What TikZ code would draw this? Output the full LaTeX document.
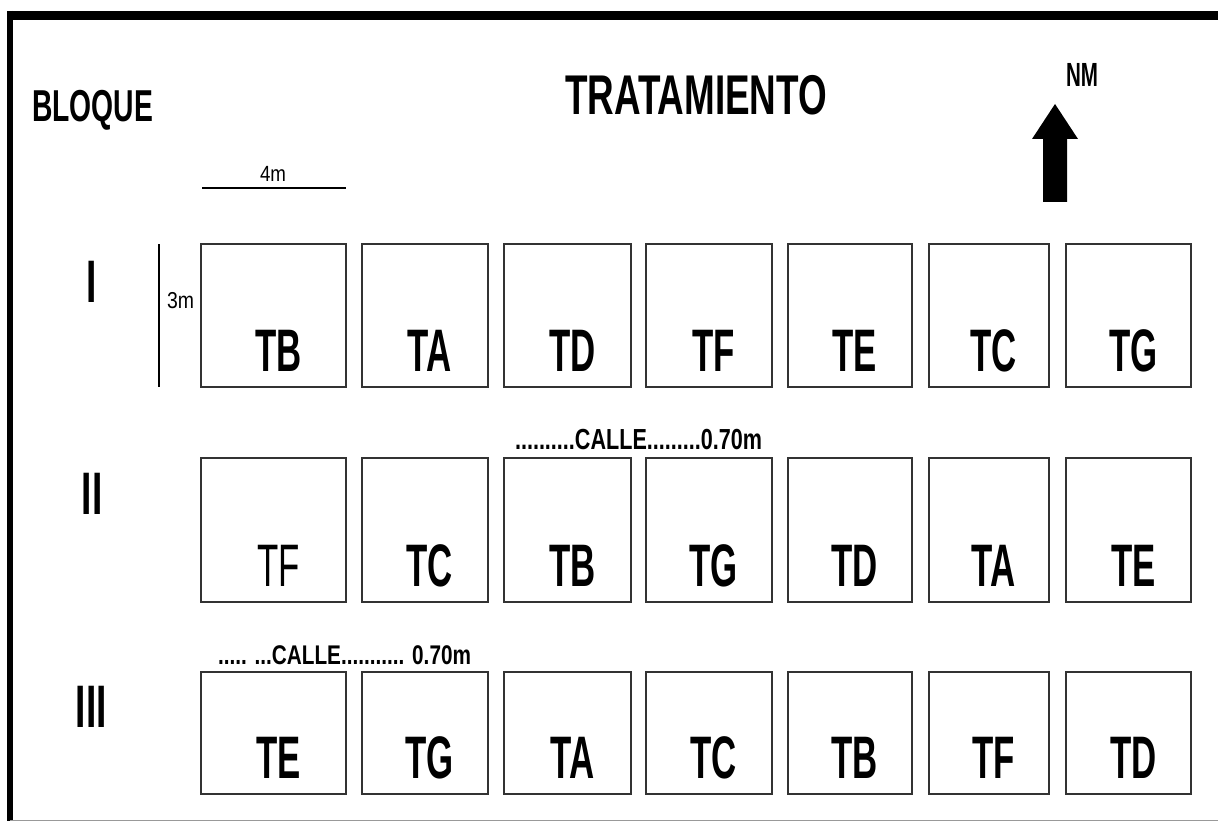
\documentclass[tikz,border=0pt]{standalone}
\usepackage{fontspec}
\setmainfont{Liberation Sans}
\usepackage{graphicx}
\newcommand{\fitw}[3]{\resizebox{#1}{\height}{\fontsize{#2}{#2}\selectfont #3}}
\newcommand{\lbl}[2][\bfseries]{\scalebox{0.58}[1]{\fontsize{60}{60}\selectfont#1 #2}}
\newcommand{\blocknum}[1]{\scalebox{0.62}[1]{\fontsize{60}{60}\selectfont\bfseries #1}}
\begin{document}
\begin{tikzpicture}[x=1pt,y=-1pt,
  txt/.style={inner sep=0pt, outer sep=0pt},
  plot/.style={draw=black!80, line width=1.2pt, inner sep=0pt, outer sep=0pt}]
\useasboundingbox (0,0) rectangle (1218,821);
% frame
\draw[line width=9pt] (7,15.5) -- (1218,15.5);
\draw[line width=6pt] (10,11) -- (10,821);
\draw[black!40, line width=1pt] (10,820) -- (1218,820);
% plots
\foreach \r/\ya/\yb in {1/244/387, 2/458/602, 3/672/794}{
  \foreach \c/\xa/\xb in {1/201/346, 2/362/488, 3/504/631, 4/646/772, 5/788/912, 6/929/1049, 7/1066/1191}{
    \pgfmathsetmacro\w{\xb-\xa}
    \pgfmathsetmacro\h{\yb-\ya}
    \node[plot, minimum width=\w pt, minimum height=\h pt] (b-\r-\c) at ({(\xa+\xb)/2},{(\ya+\yb)/2}) {};
  }
}
% labels
\foreach \r/\c/\t in {1/1/TB, 1/2/TA, 1/3/TD, 1/4/TF, 1/5/TE, 1/6/TC, 1/7/TG,
                      2/2/TC, 2/3/TB, 2/4/TG, 2/5/TD, 2/6/TA, 2/7/TE,
                      3/1/TE, 3/2/TG, 3/3/TA, 3/4/TC, 3/5/TB, 3/6/TF, 3/7/TD}{
  \node[txt, anchor=base] (l-\r-\c) at ([yshift=15.5pt]b-\r-\c.south) {\lbl{\t}};
}
\node[txt, anchor=base] (l-2-1) at ([yshift=15.5pt]b-2-1.south) {\lbl[\mdseries]{TF}};
% headings
\node[txt, anchor=base west] (bloque) at (32,122) {\fitw{121pt}{44.7pt}{\bfseries BLOQUE}};
\node[txt, anchor=base west] (trat) at (565,115) {\fitw{262pt}{56pt}{\bfseries TRATAMIENTO}};
\node[txt, anchor=base west] (nm) at (1066,87) {\fitw{32pt}{33.5pt}{\bfseries NM}};
% north arrow
\fill (1043,202) -- (1043,139) -- (1032,139) -- (1055,104) -- (1078,139) -- (1067,139) -- (1067,202) -- cycle;
% scale
\draw[line width=1.5pt] (202,188) -- (346,188);
\node[txt, anchor=base west] (m4) at (260,182) {\fitw{26pt}{22pt}{4m}};
\draw[line width=1.2pt] (159,244) -- (159,387);
\node[txt, anchor=base west] (m3) at (167,308) {\fitw{27pt}{23pt}{3m}};
% block numerals
\node[txt, anchor=base] (r1) at (92,302) {\blocknum{I}};
\node[txt, anchor=base] (r2) at (92,514) {\blocknum{II}};
\node[txt, anchor=base] (r3) at (91.5,727) {\blocknum{III}};
% calle
\node[txt, anchor=base west] (c1) at (515,449) {\fitw{247pt}{29pt}{\bfseries ..........CALLE.........0.70m}};
\node[txt, anchor=base west] (c2) at (218,664) {\fitw{253pt}{27pt}{\bfseries ..... ...CALLE........... 0.70m}};
\end{tikzpicture}
\end{document}
